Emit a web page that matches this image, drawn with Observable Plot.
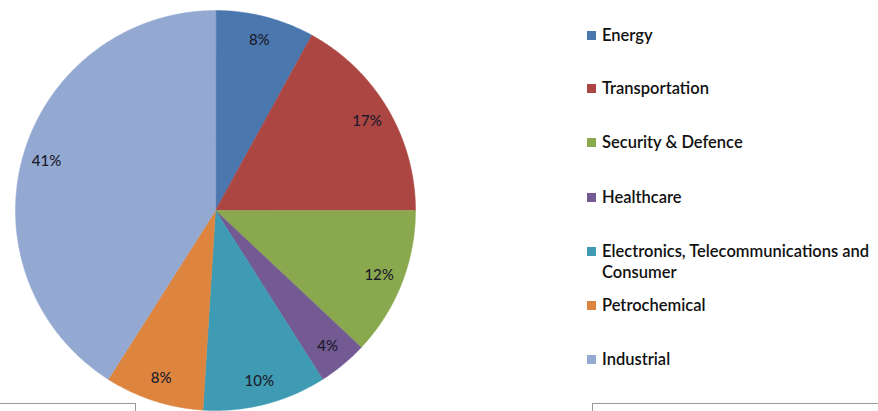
<!DOCTYPE html>
<html>
<head>
<meta charset="utf-8">
<script src="https://cdn.jsdelivr.net/npm/d3@7"></script>
<script src="https://cdn.jsdelivr.net/npm/@observablehq/plot@0.6"></script>
<style>
  html, body { margin: 0; padding: 0; background: #fff; overflow: hidden; }
  #wrap { position: relative; width: 878px; height: 411px; }
  #legend { position: absolute; left: 587px; top: 0; font-family: Lato, "Open Sans", sans-serif; font-size: 16.5px; font-weight: 600; color: #111; }
  .item { position: absolute; left: 0; width: 300px; display: flex; align-items: flex-start; line-height: 21px; }
  .sw { width: 9px; height: 9px; margin: 6px 6px 0 0; flex: none; }
  .box { position: absolute; border: 1px solid #9a9a9a; height: 30px; background: #fff; }
</style>
</head>
<body>
<div id="wrap"></div>
<script>
const categories = ["Energy", "Transportation", "Security & Defence", "Healthcare", "Electronics, Telecommunications and Consumer", "Petrochemical", "Industrial"];
const shares = [8, 17, 12, 4, 10, 8, 41];
const colors = ["#4a77ae", "#ac4642", "#8aa94e", "#735a92", "#3f9bb3", "#dd853e", "#94a9d2"];
const legendTops = [25, 78, 132, 187, 241, 295, 349];

const data = categories.map((name, i) => ({name, value: shares[i]}));
const arcs = d3.pie().sort(null).value(d => d.value)(data);

// polygon outline of each slice (unit radius), angle clockwise from top
const pts = [];
arcs.forEach(a => {
  pts.push({name: a.data.name, x: 0, y: 0});
  const n = Math.max(4, Math.ceil((a.endAngle - a.startAngle) / 0.01));
  for (let k = 0; k <= n; k++) {
    const t = a.startAngle + (a.endAngle - a.startAngle) * k / n;
    pts.push({name: a.data.name, x: Math.sin(t), y: Math.cos(t)});
  }
});
const labels = arcs.map(a => {
  const m = (a.startAngle + a.endAngle) / 2;
  return {x: 0.88 * Math.sin(m), y: 0.88 * Math.cos(m), text: a.data.value + "%"};
});

const chart = Plot.plot({
  width: 878,
  height: 411,
  margin: 0,
  x: {domain: [-1, 1], range: [15, 415], axis: null},
  y: {domain: [-1, 1], range: [410, 10], axis: null},
  color: {domain: categories, range: colors},
  style: {background: "transparent"},
  marks: [
    Plot.line(pts, {x: "x", y: "y", z: "name", fill: "name", stroke: "name", strokeWidth: 0.5, curve: "linear-closed"}),
    Plot.text(labels, {x: "x", y: "y", text: "text", fill: "#1b1b2b", fontSize: 15, fontWeight: 500, fontFamily: "Lato, 'Open Sans', sans-serif"})
  ]
});
const wrap = document.getElementById("wrap");
wrap.appendChild(chart);
chart.style.position = "absolute"; chart.style.left = "0"; chart.style.top = "0";

const leg = document.createElement("div");
leg.id = "legend";
categories.forEach((c, i) => {
  const it = document.createElement("div");
  it.className = "item";
  it.style.top = legendTops[i] + "px";
  const sw = document.createElement("div");
  sw.className = "sw"; sw.style.background = colors[i];
  const tx = document.createElement("div");
  tx.textContent = c;
  it.appendChild(sw); it.appendChild(tx);
  leg.appendChild(it);
});
wrap.appendChild(leg);

const b1 = document.createElement("div"); b1.className = "box";
b1.style.left = "-2px"; b1.style.top = "403px"; b1.style.width = "136px";
const b2 = document.createElement("div"); b2.className = "box";
b2.style.left = "592px"; b2.style.top = "403px"; b2.style.width = "300px";
wrap.appendChild(b1); wrap.appendChild(b2);
</script>
</body>
</html>
